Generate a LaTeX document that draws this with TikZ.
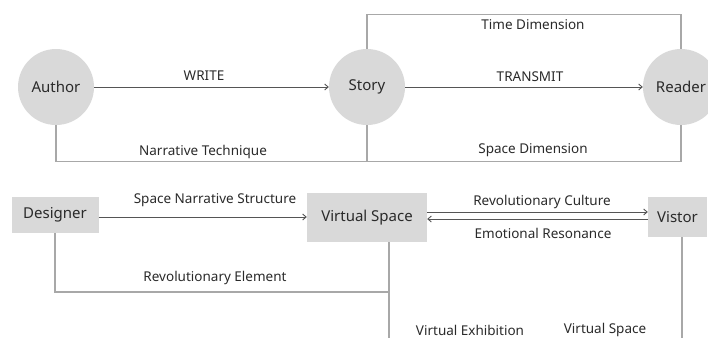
\documentclass[tikz,border=0pt]{standalone}
\usepackage{fontspec}
\setmainfont{Noto Sans}
\usetikzlibrary{arrows.meta}
\definecolor{nodefill}{HTML}{D9D9D9}
\definecolor{txt}{HTML}{2A2A2A}
\definecolor{arr}{HTML}{555555}
\definecolor{frame}{HTML}{A8A8A8}
\tikzset{
  x=1pt, y=1pt,
  circ/.style={circle, fill=nodefill, draw=none, minimum size=76pt, inner sep=0pt, text=txt, font=\fontsize{15}{17}\selectfont},
  boxn/.style={rectangle, fill=nodefill, draw=none, inner sep=0pt, text=txt, font=\fontsize{15}{17}\selectfont},
  lbl/.style={text=txt, font=\fontsize{13.5}{15}\selectfont, inner sep=0pt},
  conn/.style={draw=arr, line width=0.9pt, -{Straight Barb[length=3.5pt,width=6pt]}},
  framel/.style={draw=frame, line width=1.2pt},
}
\begin{document}
\begin{tikzpicture}
\useasboundingbox (0,0) rectangle (708,-338);
\clip (0,0) rectangle (708,-338);
% top row
\node[circ] (author) at (56,-87) {Author};
\node[circ] (story) at (367,-87) {Story};
\node[circ] (reader) at (681,-87) {Reader};
\draw[conn] (author.east) -- (story.west);
\draw[conn] (story.east) -- (reader.west);
\draw[framel] (author.south) -- ++(0,-36) -| (story.south);
\draw[framel] (story.south) -- ++(0,-36) -| (reader.south);
\draw[framel] (story.north) -- ++(0,34) -| (reader.north);
\node[lbl] (lwrite) at (204,-76) {WRITE};
\node[lbl] (lnarr) at (203,-152) {Narrative Technique};
\node[lbl] (ltime) at (533,-25) {Time Dimension};
\node[lbl] (ltrans) at (530,-77) {TRANSMIT};
\node[lbl] (lspace) at (533,-150) {Space Dimension};
% bottom row
\node[boxn, minimum width=87pt, minimum height=36pt] (designer) at (55,-215) {Designer};
\node[boxn, minimum width=120pt, minimum height=49pt] (vspace) at (367,-217.5) {Virtual Space};
\node[boxn, minimum width=59pt, minimum height=40pt] (vistor) at (677.5,-217) {Vistor};
\draw[conn] ([yshift=-2pt]designer.east) -- ([yshift=-2pt]designer.east -| vspace.west);
\draw[conn] ([yshift=5.5pt]vspace.east) -- ([yshift=5.5pt]vspace.east -| vistor.west);
\draw[conn] ([yshift=-1.5pt]vspace.east -| vistor.west) -- ([yshift=-1.5pt]vspace.east);
\coordinate (vsdrop) at ([xshift=22pt]vspace.south);
\coordinate (vsend) at (389,-338);
\coordinate (recorner) at (389,-292);
\draw[framel] (designer.south) |- (recorner);
\draw[framel] (vsdrop) -- (vsend);
\coordinate (visdrop) at ([xshift=4.5pt]vistor.south);
\coordinate (visend) at (682,-338);
\draw[framel] (visdrop) -- (visend);
\node[lbl] (lsns) at (215,-200) {Space Narrative Structure};
\node[lbl] (lre) at (215,-278) {Revolutionary Element};
\node[lbl] (lrc) at (542,-202) {Revolutionary Culture};
\node[lbl] (ler) at (543,-233) {Emotional Resonance};
\node[lbl] (lve) at (470,-330) {Virtual Exhibition};
\node[lbl] (lvs) at (605,-330) {Virtual Space};
\end{tikzpicture}
\end{document}
